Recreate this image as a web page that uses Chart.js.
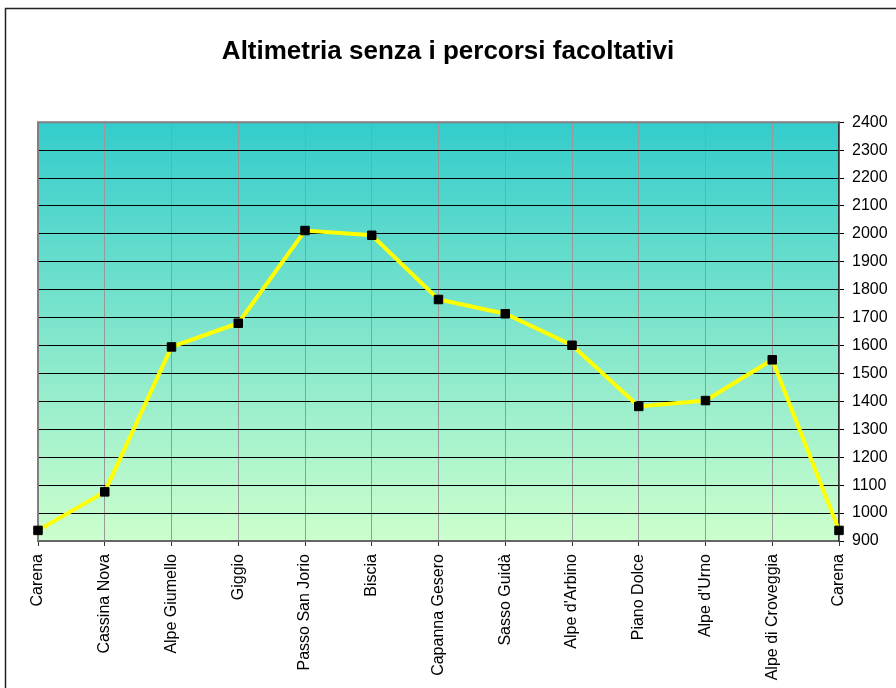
<!DOCTYPE html>
<html>
<head>
<meta charset="utf-8">
<script src="https://cdn.jsdelivr.net/npm/chart.js@4"></script>
<style>
  body { margin: 0; background: #fff; }
  canvas { display: block; }
</style>
</head>
<body>
<canvas id="altimetria" width="896" height="688"></canvas>
<script>
    // dati
    var localita = ['Carena', 'Cassina Nova', 'Alpe Giumello', 'Giggio', 'Passo San Jorio', 'Biscia',
        'Capanna Gesero', 'Sasso Guidà', "Alpe d'Arbino", 'Piano Dolce', "Alpe d'Urno", 'Alpe di Croveggia', 'Carena'];
    var quote = [938, 1076, 1595, 1680, 2012, 1995, 1765, 1714, 1601, 1382, 1403, 1549, 938];
    var quotaMin = 900;
    var quotaMax = 2400;
    var passoQuota = 100;

    var font = 'Liberation Sans, Arial, Helvetica, sans-serif';

    // sfondo sfumato dell'area del grafico + cornici
    var sfondo = {
        id: 'sfondo',
        beforeDraw: function (chart) {
            var a = chart.chartArea, ctx = chart.ctx;
            var g = ctx.createLinearGradient(0, a.top, 0, a.bottom);
            g.addColorStop(0, '#33CCCC');
            g.addColorStop(1, '#CCFFCC');
            ctx.save();
            ctx.fillStyle = g;
            ctx.fillRect(a.left, a.top, a.right - a.left, a.bottom - a.top);
            ctx.restore();
        },
        beforeDatasetsDraw: function (chart) {
            var a = chart.chartArea, ctx = chart.ctx;
            ctx.save();
            ctx.strokeStyle = '#808080';
            ctx.lineWidth = 2;
            ctx.beginPath();
            ctx.moveTo(a.left, a.bottom);
            ctx.lineTo(a.left, a.top);
            ctx.lineTo(a.right, a.top);
            ctx.stroke();
            ctx.restore();
        },
        afterDraw: function (chart) {
            var ctx = chart.ctx;
            ctx.save();
            ctx.strokeStyle = '#222';
            ctx.lineWidth = 1.5;
            ctx.beginPath();
            ctx.moveTo(5.5, chart.height);
            ctx.lineTo(5.5, 8.5);
            ctx.lineTo(chart.width, 8.5);
            ctx.stroke();
            ctx.restore();
        }
    };

    var ctx = document.getElementById('altimetria').getContext('2d');
    var altimetria = new Chart(ctx, {
        type: 'line',
        data: {
            labels: localita,
            datasets: [{
                label: 'Altimetria',
                data: quote,
                borderColor: '#FFFF00',
                borderWidth: 4,
                tension: 0,
                pointStyle: 'rect',
                pointRadius: 6,
                pointHoverRadius: 6,
                pointBackgroundColor: '#000',
                pointBorderColor: '#000',
                pointBorderWidth: 1,
                clip: false
            }]
        },
        options: {
            responsive: false,
            animation: false,
            events: [],
            layout: { padding: 0 },
            plugins: {
                legend: { display: false },
                tooltip: { enabled: false },
                title: {
                    display: true,
                    text: 'Altimetria senza i percorsi facoltativi',
                    color: '#000',
                    font: { family: font, size: 26, weight: 'bold' },
                    padding: { top: 36, bottom: 55 }
                }
            },
            scales: {
                x: {
                    offset: false,
                    grid: { color: '#999999', lineWidth: 1, tickLength: 5, tickColor: '#333' },
                    border: { color: '#666', width: 2 },
                    ticks: {
                        color: '#000',
                        font: { family: font, size: 16 },
                        minRotation: 90,
                        maxRotation: 90,
                        autoSkip: false,
                        padding: 8
                    },
                    afterFit: function (s) { s.height = 147; }
                },
                y: {
                    position: 'right',
                    min: quotaMin,
                    max: quotaMax,
                    grid: { color: '#000', lineWidth: 1, tickLength: 5 },
                    border: { color: '#333', width: 1.5 },
                    ticks: {
                        stepSize: passoQuota,
                        color: '#000',
                        font: { family: font, size: 16 },
                        padding: 8,
                        callback: function (v) { return String(v); }
                    },
                    afterFit: function (s) { s.width = 57; }
                },
                vuoto: {
                    position: 'left',
                    grid: { display: false },
                    border: { display: false },
                    ticks: { display: false },
                    afterFit: function (s) { s.width = 38; }
                }
            }
        },
        plugins: [sfondo]
    });
</script>
</body>
</html>
